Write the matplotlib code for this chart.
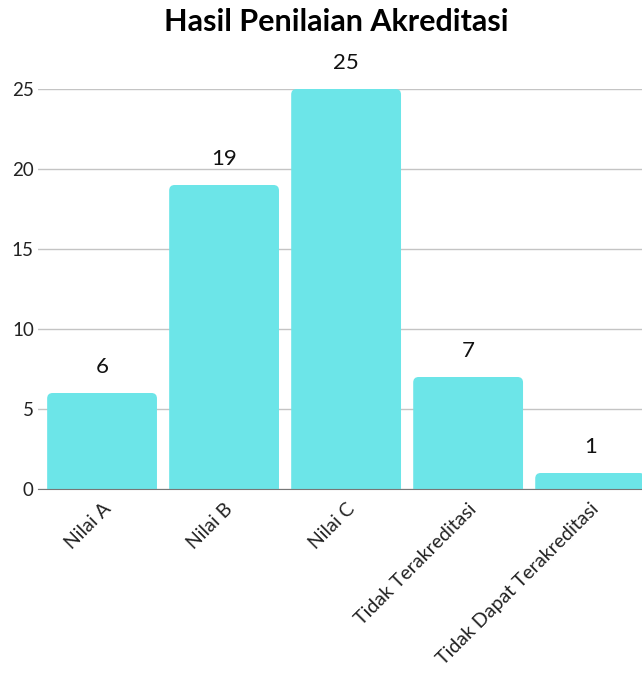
import matplotlib.pyplot as plt
from matplotlib.patches import FancyBboxPatch
from matplotlib import transforms

categories = ["Nilai A", "Nilai B", "Nilai C", "Tidak Terakreditasi", "Tidak Dapat Terakreditasi"]
values = [6, 19, 25, 7, 1]
yticks = [0, 5, 10, 15, 20, 25]

bar_color = "#6ce5e8"
W, H = 642, 673

fig = plt.figure(figsize=(W / 100, H / 100), dpi=100)
ax = fig.add_axes([38 / W, 1 - 489 / H, (642 - 38) / W, 400 / H])

ax.set_xlim(-0.525, 4.425)
ax.set_ylim(0, 25)

# rounded tops: x units are ~122 px, y units ~16 px
rx = 0.045
aspect = (122 / 16)
for i, v in enumerate(values):
    p = FancyBboxPatch((i - 0.45, -2), 0.9, v + 2,
                       boxstyle=f"round,pad=0,rounding_size={rx}",
                       mutation_aspect=aspect,
                       facecolor=bar_color, edgecolor="none", zorder=2)
    p.set_clip_path(ax.patch)
    ax.add_patch(p)
    ax.text(i, v + 1.0, str(v), ha="center", va="bottom", fontsize=16,
            family="Lato", color="#111111", clip_on=False)

ax.set_yticks(yticks)
ax.set_yticklabels([str(t) for t in yticks], family="Lato", fontsize=13.5, color="#222222")
ax.set_xticks(range(len(categories)))
ax.set_xticklabels(categories, rotation=45, ha="right", va="top",
                   rotation_mode="anchor", family="Lato", fontsize=14, color="#222222")
off = transforms.ScaledTranslation(18 / 100, -16 / 100, fig.dpi_scale_trans)
for lab in ax.get_xticklabels():
    lab.set_transform(lab.get_transform() + off)

ax.tick_params(axis="x", length=0, pad=8)
ax.tick_params(axis="y", length=0, pad=3)
ax.grid(axis="y", color="#c4c4c4", linewidth=1, zorder=0)
ax.set_axisbelow(True)
for s in ["top", "right", "left"]:
    ax.spines[s].set_visible(False)
ax.spines["bottom"].set_color("#777777")
ax.spines["bottom"].set_zorder(3)

fig.text(336 / W, 1 - 22 / H, "Hasil Penilaian Akreditasi", ha="center", va="center",
         fontsize=22, fontweight="bold", family="Lato", color="#000000")

fig.savefig("out.png", dpi=100)
